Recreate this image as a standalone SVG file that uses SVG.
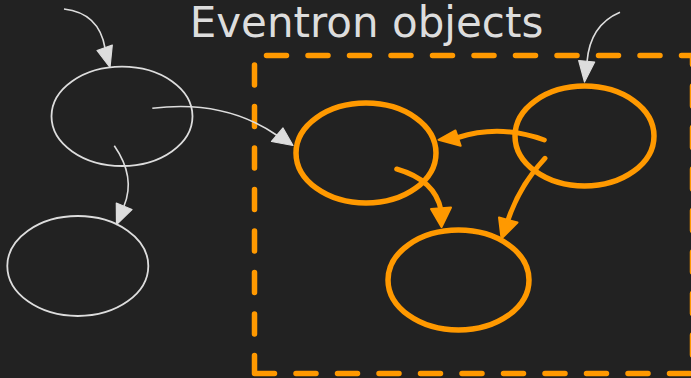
<svg xmlns="http://www.w3.org/2000/svg" width="691" height="378" viewBox="0 0 691 378">
  <style>
    .bg { fill: #222222; }
    .title { font-family: "DejaVu Sans", "Liberation Sans", sans-serif; font-size: 42px; fill: #dddddd; }
    .plain { fill: none; stroke: #dddddd; stroke-width: 1.8; }
    .hot { fill: none; stroke: #ff9900; stroke-width: 5.5; }
    .cluster { fill: none; stroke: #ff9900; stroke-width: 5.5; stroke-dasharray: 20 21.5; stroke-linecap: round; stroke-linejoin: round; }
    .edge-plain { fill: none; stroke: #dddddd; stroke-width: 1.6; }
    .head-plain { fill: #dddddd; stroke: #dddddd; stroke-width: 1.2; stroke-linejoin: round; }
    .edge-hot { fill: none; stroke: #ff9900; stroke-width: 5; stroke-linecap: round; }
    .head-hot { fill: #ff9900; stroke: #ff9900; stroke-width: 2; stroke-linejoin: round; }
  </style>

  <rect class="bg" x="0" y="0" width="691" height="378"/>

  <!-- Eventron cluster frame and caption -->
  <g id="cluster-eventron">
    <path class="cluster" d="M254.5,373.5 H692.5 V55.5 H254.5 Z"/>
    <text class="title" x="366.5" y="37" text-anchor="middle">Eventron objects</text>
  </g>

  <!-- plain nodes -->
  <g id="node-a">
    <ellipse class="plain" cx="122" cy="116.3" rx="70.5" ry="49.7"/>
  </g>
  <g id="node-b">
    <ellipse class="plain" cx="77.8" cy="266" rx="70.5" ry="50"/>
  </g>

  <!-- Eventron nodes -->
  <g id="node-c">
    <ellipse class="hot" cx="366" cy="153" rx="70" ry="50"/>
  </g>
  <g id="node-d">
    <ellipse class="hot" cx="584.5" cy="136" rx="69.5" ry="50"/>
  </g>
  <g id="node-e">
    <ellipse class="hot" cx="458.5" cy="280" rx="70.5" ry="50"/>
  </g>

  <g id="connectors">
    <!-- incoming to A -->
    <path class="edge-plain" d="M64,9 Q99,13 105,48"/>
    <polygon class="head-plain" points="110,67.5 97,50.5 112.3,45"/>
    <!-- A to C -->
    <path class="edge-plain" d="M152.3,108.3 Q225,99 278,136"/>
    <polygon class="head-plain" points="293,145.5 271.5,141.5 283,128"/>
    <!-- A to B -->
    <path class="edge-plain" d="M114.3,145.7 Q136,177 124,206"/>
    <polygon class="head-plain" points="116.5,224.5 116.3,203 132,209.5"/>
    <!-- incoming to D -->
    <path class="edge-plain" d="M620,12.3 Q590,25 587,62"/>
    <polygon class="head-plain" points="584.5,82 578.7,60.5 594.7,62"/>

    <!-- D to C -->
    <path class="edge-hot" d="M544.3,140 Q500,124 458,137.5"/>
    <polygon class="head-hot" points="438.5,139.8 455.5,130.5 460.7,145.8"/>
    <!-- C to E -->
    <path class="edge-hot" d="M396.7,169 Q435,180 441,210"/>
    <polygon class="head-hot" points="441.5,227 431,209 451,207.5"/>
    <!-- D to E -->
    <path class="edge-hot" d="M545,158.3 Q520,185 508,220"/>
    <polygon class="head-hot" points="501.5,238.5 499,217.5 517.5,222.5"/>
  </g>
</svg>
